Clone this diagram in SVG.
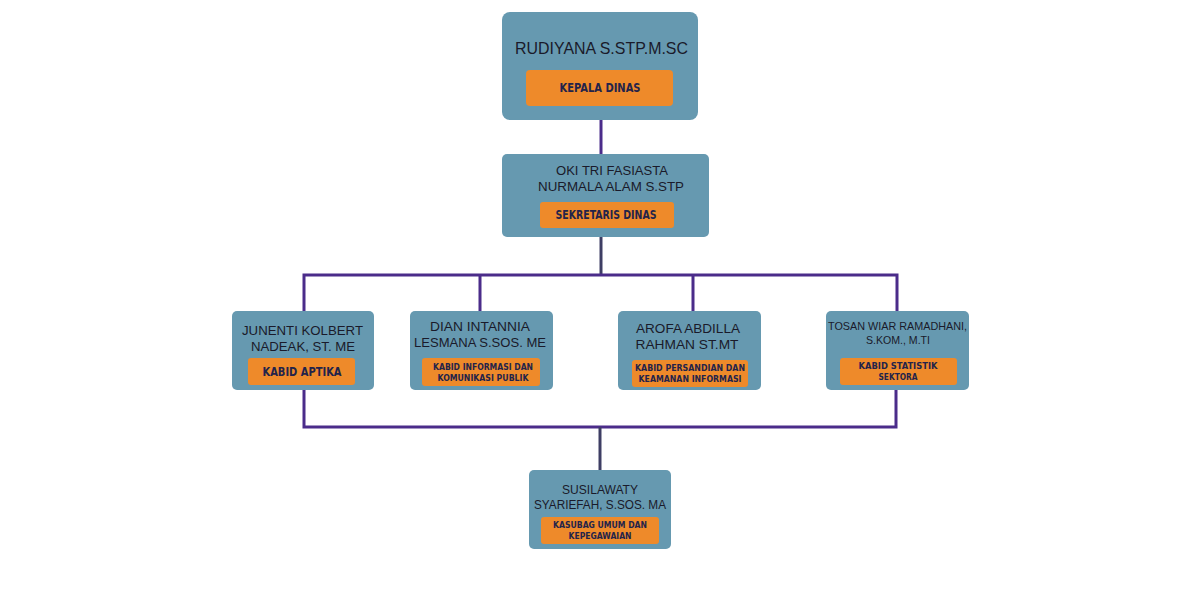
<svg xmlns="http://www.w3.org/2000/svg" width="1200" height="600" viewBox="0 0 1200 600">
<style>
.box{fill:#6699B0}
.tag{fill:#EE8A2A}
.nm{font-family:"Liberation Sans","Open Sans",sans-serif;fill:#1A1A2A;text-anchor:middle}
.lb{font-family:"DejaVu Sans","Liberation Sans",sans-serif;font-stretch:condensed;font-weight:bold;fill:#23234A;text-anchor:middle}
.c{stroke:#4B2C8A;stroke-width:3;fill:none}
.d{stroke:#3E3E64;stroke-width:3;fill:none}
</style>
<rect width="1200" height="600" fill="#ffffff"/>
<g id="connectors">
<path class="c" d="M601 120V154"/>
<path class="d" d="M601 236V275"/>
<path class="c" d="M304 311V275H897V311M480 275V311M693 275V311"/>
<path class="c" d="M304 389V427H896V389"/>
<path class="d" d="M600 427V470"/>
</g>
<g id="kepala">
<rect class="box" x="502" y="12" width="196" height="108" rx="8"/>
<text class="nm" x="601.5" y="54" font-size="16.5" textLength="173" lengthAdjust="spacingAndGlyphs">RUDIYANA S.STP.M.SC</text>
<rect class="tag" x="526" y="70" width="147" height="36" rx="4"/>
<text class="lb" x="600" y="92" font-size="12.5" textLength="81" lengthAdjust="spacingAndGlyphs">KEPALA DINAS</text>
</g>
<g id="sekretaris">
<rect class="box" x="502" y="154" width="207" height="83" rx="5"/>
<text class="nm" x="612" y="175" font-size="13.5" textLength="112" lengthAdjust="spacingAndGlyphs">OKI TRI FASIASTA</text>
<text class="nm" x="611" y="191" font-size="13.5" textLength="146" lengthAdjust="spacingAndGlyphs">NURMALA ALAM S.STP</text>
<rect class="tag" x="540" y="202" width="134" height="26" rx="3"/>
<text class="lb" x="606" y="219" font-size="12" textLength="101" lengthAdjust="spacingAndGlyphs">SEKRETARIS DINAS</text>
</g>
<g id="aptika">
<rect class="box" x="232" y="311" width="142" height="79" rx="5"/>
<text class="nm" x="302.5" y="335" font-size="13.5" textLength="121" lengthAdjust="spacingAndGlyphs">JUNENTI KOLBERT</text>
<text class="nm" x="303" y="351" font-size="13.5" textLength="104" lengthAdjust="spacingAndGlyphs">NADEAK, ST. ME</text>
<rect class="tag" x="248" y="358" width="107" height="27" rx="3"/>
<text class="lb" x="302" y="376" font-size="12" textLength="79" lengthAdjust="spacingAndGlyphs">KABID APTIKA</text>
</g>
<g id="informasi">
<rect class="box" x="410" y="311" width="143" height="79" rx="5"/>
<text class="nm" x="480" y="331" font-size="13.5" textLength="100" lengthAdjust="spacingAndGlyphs">DIAN INTANNIA</text>
<text class="nm" x="480" y="347" font-size="13.5" textLength="132" lengthAdjust="spacingAndGlyphs">LESMANA S.SOS. ME</text>
<rect class="tag" x="422" y="358" width="118" height="28" rx="3"/>
<text class="lb" x="483" y="370" font-size="9" textLength="100" lengthAdjust="spacingAndGlyphs">KABID INFORMASI DAN</text>
<text class="lb" x="483" y="381" font-size="9" textLength="91" lengthAdjust="spacingAndGlyphs">KOMUNIKASI PUBLIK</text>
</g>
<g id="persandian">
<rect class="box" x="618" y="311" width="143" height="79" rx="5"/>
<text class="nm" x="688" y="333" font-size="13.5" textLength="104" lengthAdjust="spacingAndGlyphs">AROFA ABDILLA</text>
<text class="nm" x="687" y="349" font-size="13.5" textLength="103" lengthAdjust="spacingAndGlyphs">RAHMAN ST.MT</text>
<rect class="tag" x="632" y="360" width="116" height="27" rx="3"/>
<text class="lb" x="690" y="371" font-size="9" textLength="110" lengthAdjust="spacingAndGlyphs">KABID PERSANDIAN DAN</text>
<text class="lb" x="690" y="382" font-size="9" textLength="103" lengthAdjust="spacingAndGlyphs">KEAMANAN INFORMASI</text>
</g>
<g id="statistik">
<rect class="box" x="826" y="311" width="143" height="79" rx="5"/>
<text class="nm" x="897.5" y="330" font-size="11" textLength="139" lengthAdjust="spacingAndGlyphs">TOSAN WIAR RAMADHANI,</text>
<text class="nm" x="898" y="344" font-size="11" textLength="64" lengthAdjust="spacingAndGlyphs">S.KOM., M.TI</text>
<rect class="tag" x="840" y="358" width="117" height="27" rx="3"/>
<text class="lb" x="898" y="369" font-size="9" textLength="79" lengthAdjust="spacingAndGlyphs">KABID STATISTIK</text>
<text class="lb" x="898" y="380" font-size="9" textLength="39" lengthAdjust="spacingAndGlyphs">SEKTORA</text>
</g>
<g id="kasubag">
<rect class="box" x="529" y="470" width="142" height="79" rx="5"/>
<text class="nm" x="600" y="494" font-size="12.5" textLength="76" lengthAdjust="spacingAndGlyphs">SUSILAWATY</text>
<text class="nm" x="600" y="509" font-size="12.5" textLength="132" lengthAdjust="spacingAndGlyphs">SYARIEFAH, S.SOS. MA</text>
<rect class="tag" x="541" y="517" width="118" height="27" rx="3"/>
<text class="lb" x="600" y="528" font-size="9" textLength="94" lengthAdjust="spacingAndGlyphs">KASUBAG UMUM DAN</text>
<text class="lb" x="600" y="539" font-size="9" textLength="63" lengthAdjust="spacingAndGlyphs">KEPEGAWAIAN</text>
</g>
</svg>
